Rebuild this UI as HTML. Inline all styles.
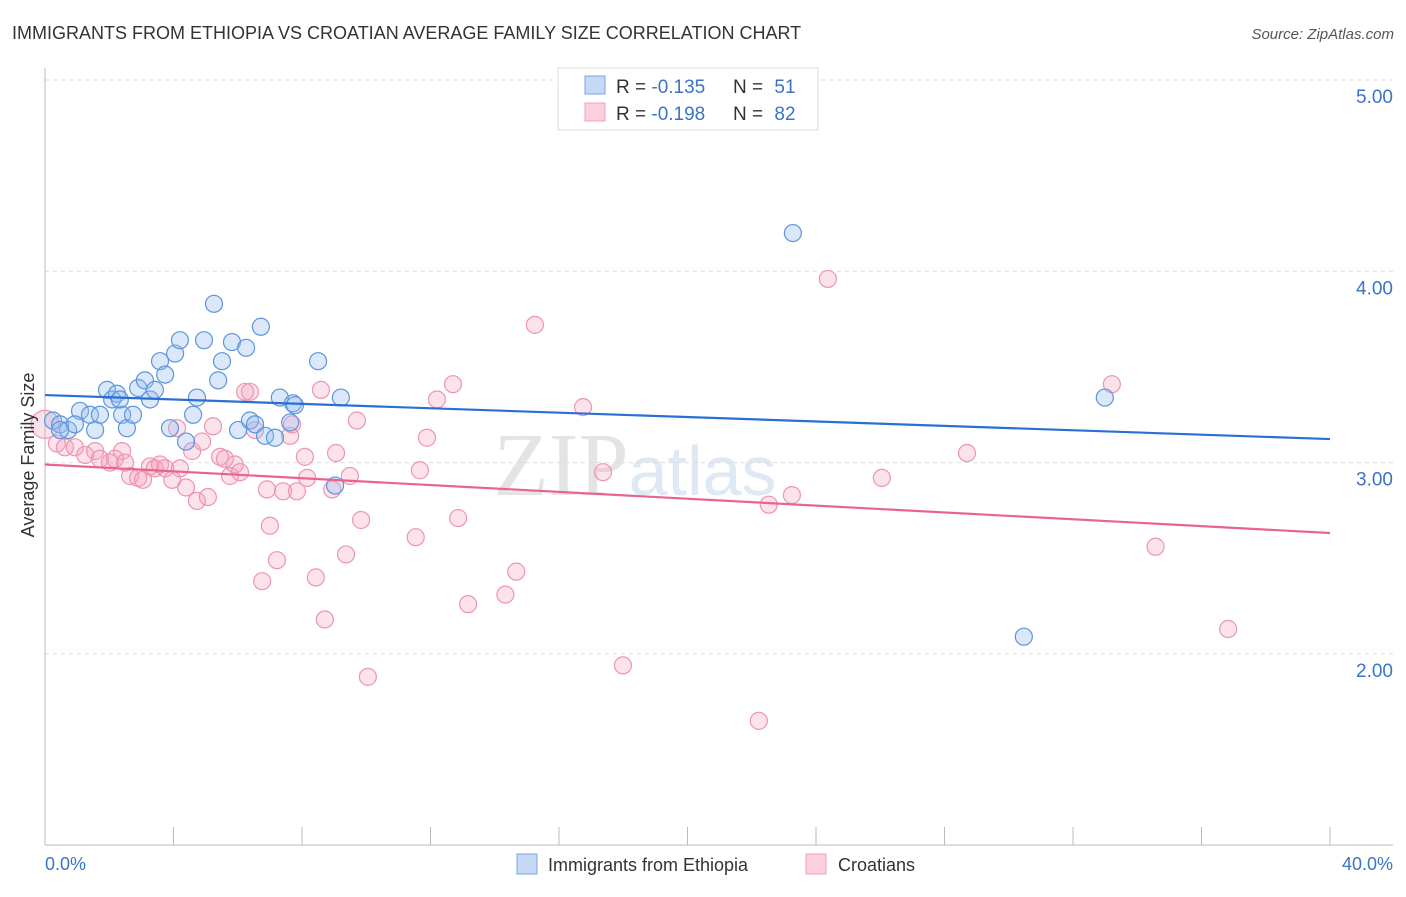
<!DOCTYPE html>
<html><head><meta charset="utf-8"><style>
body{margin:0;background:#fff;font-family:"Liberation Sans",sans-serif}
</style></head><body>
<svg width="1406" height="892" xmlns="http://www.w3.org/2000/svg" font-family="Liberation Sans, sans-serif">
<text x="12" y="39" font-size="18" fill="#333">IMMIGRANTS FROM ETHIOPIA VS CROATIAN AVERAGE FAMILY SIZE CORRELATION CHART</text>
<text x="1394" y="39" font-size="15" fill="#555" text-anchor="end" font-style="italic">Source: ZipAtlas.com</text>
<text x="635" y="495" font-size="90" fill="#e4e4e4" font-family="Liberation Serif, serif" text-anchor="middle">ZIP<tspan fill="#dfe8f5" font-family="Liberation Sans, sans-serif" font-size="70">atlas</tspan></text>
<g id="grid"></g><g id="axes"></g><g id="pts"></g><g id="lines"></g>
<text x="34" y="455" font-size="18" fill="#333" text-anchor="middle" transform="rotate(-90 34 455)">Average Family Size</text>
<text x="45" y="870" font-size="18" fill="#3b73c9">0.0%</text>
<text x="1393" y="870" font-size="18" fill="#3b73c9" text-anchor="end">40.0%</text>
<g>
<rect x="558" y="68" width="260" height="62" fill="#fff" stroke="#ddd"/>
<rect x="585" y="76" width="20" height="18" fill="#c5d9f5" stroke="#7aa7e0"/>
<text x="616" y="93" font-size="19" fill="#333">R = <tspan fill="#3b73c9">-0.135</tspan></text>
<text x="733" y="93" font-size="19" fill="#333">N = <tspan fill="#3b73c9" dx="6">51</tspan></text>
<rect x="585" y="103" width="20" height="18" fill="#fbd0dc" stroke="#f0a0b8"/>
<text x="616" y="120" font-size="19" fill="#333">R = <tspan fill="#3b73c9">-0.198</tspan></text>
<text x="733" y="120" font-size="19" fill="#333">N = <tspan fill="#3b73c9" dx="6">82</tspan></text>
</g>
<g>
<rect x="517" y="854" width="20" height="20" fill="#c5d9f5" stroke="#7aa7e0"/>
<text x="548" y="871" font-size="18" fill="#333">Immigrants from Ethiopia</text>
<rect x="806" y="854" width="20" height="20" fill="#fbd0dc" stroke="#f0a0b8"/>
<text x="838" y="871" font-size="18" fill="#333">Croatians</text>
</g>
</svg>
<script>
const yTicks=[5,4,3,2];
const yTickLabels=["5.00","4.00","3.00","2.00"];
const ethX=[0.25,0.47,0.72,1.09,0.93,1.40,1.71,1.93,2.09,2.24,2.40,2.55,2.74,2.90,3.11,3.27,3.42,3.58,3.74,3.89,4.05,4.20,4.39,4.61,4.73,5.26,4.95,5.39,5.51,5.82,6.01,6.26,6.38,6.54,6.72,6.85,7.16,7.31,7.63,7.72,7.78,8.50,9.03,9.21,23.28,30.47,32.99,0.47,1.56,2.33];
const ethY=[3.22,3.20,3.17,3.27,3.20,3.25,3.25,3.38,3.33,3.36,3.25,3.18,3.25,3.39,3.43,3.33,3.38,3.53,3.46,3.18,3.57,3.64,3.11,3.25,3.34,3.83,3.64,3.43,3.53,3.63,3.17,3.60,3.22,3.20,3.71,3.14,3.13,3.34,3.21,3.31,3.30,3.53,2.88,3.34,4.20,2.09,3.34,3.17,3.17,3.33];
const croX=[0,0.37,0.62,0.93,1.25,1.56,1.71,2.02,2.18,2.40,2.49,2.65,2.90,3.05,3.27,3.42,3.58,3.74,3.96,4.11,4.20,4.39,4.58,4.73,4.89,5.07,5.23,5.45,5.60,5.76,5.91,6.07,6.23,6.38,6.54,6.76,6.91,7.00,7.22,7.41,7.63,7.69,7.84,8.09,8.16,8.43,8.59,8.71,8.94,9.06,9.37,9.49,9.71,9.84,10.05,11.54,11.67,11.89,12.20,12.70,12.86,13.17,14.33,14.67,15.25,16.75,17.37,17.99,22.22,22.53,23.25,24.37,26.05,28.70,33.21,34.57,36.83];
const croY=[3.20,3.10,3.08,3.08,3.04,3.06,3.02,3.00,3.02,3.06,3.00,2.93,2.92,2.91,2.98,2.97,2.99,2.97,2.91,3.18,2.97,2.87,3.06,2.80,3.11,2.82,3.19,3.03,3.02,2.93,2.99,2.95,3.37,3.37,3.17,2.38,2.86,2.67,2.49,2.85,3.14,3.20,2.85,3.03,2.92,2.40,3.38,2.18,2.86,3.05,2.52,2.93,3.22,2.70,1.88,2.61,2.96,3.13,3.33,3.41,2.71,2.26,2.31,2.43,3.72,3.29,2.95,1.94,1.65,2.78,2.83,3.96,2.92,3.05,3.41,2.56,2.13];
const ethLine=[3.353,3.123];
const croLine=[2.99,2.632];
const NS="http://www.w3.org/2000/svg";
const X=v=>45+v/40*1285, Y=v=>80+(5-v)*191.3;
function mk(t,a,p){const e=document.createElementNS(NS,t);for(const k in a)e.setAttribute(k,a[k]);p.appendChild(e);return e;}
const grid=document.getElementById('grid'),axes=document.getElementById('axes'),pts=document.getElementById('pts'),lines=document.getElementById('lines');
yTicks.forEach((t,i)=>{
 const l=mk('line',{x1:45,x2:1393,y1:Y(t),y2:Y(t),stroke:'#ddd','stroke-dasharray':'4 4'},grid);
 
 
 const tx=mk('text',{x:1393,y:Y(t)+23,'font-size':19,fill:'#3b73c9','text-anchor':'end'},axes);
 tx.textContent=yTickLabels[i];
 
 
});
const ax=mk('line',{x1:45,x2:1393,y1:845,y2:845,stroke:'#bbb'},axes);


const ay=mk('line',{x1:45,x2:45,y1:68,y2:845,stroke:'#bbb'},axes);


for(let i=0;i<=10;i++){const t=mk('line',{x1:X(i*4),x2:X(i*4),y1:827,y2:845,stroke:'#bbb'},axes);
 
 }
croX.forEach((x,i)=>{const c=mk('circle',{cx:X(x),cy:Y(croY[i]),r:i==0?14:8.5,fill:'rgba(245,160,185,0.3)',stroke:'#ee95b0','stroke-width':1.2},pts);
 
 });
ethX.forEach((x,i)=>{const c=mk('circle',{cx:X(x),cy:Y(ethY[i]),r:8.5,fill:'rgba(150,190,240,0.35)',stroke:'#5e95dc','stroke-width':1.2},pts);
 
 });
const l1=mk('line',{x1:X(0),x2:X(40),y1:Y(ethLine[0]),y2:Y(ethLine[1]),stroke:'#2a6fd6','stroke-width':2.2},lines);


const l2=mk('line',{x1:X(0),x2:X(40),y1:Y(croLine[0]),y2:Y(croLine[1]),stroke:'#e8648f','stroke-width':2.2},lines);


</script>
</body></html>
